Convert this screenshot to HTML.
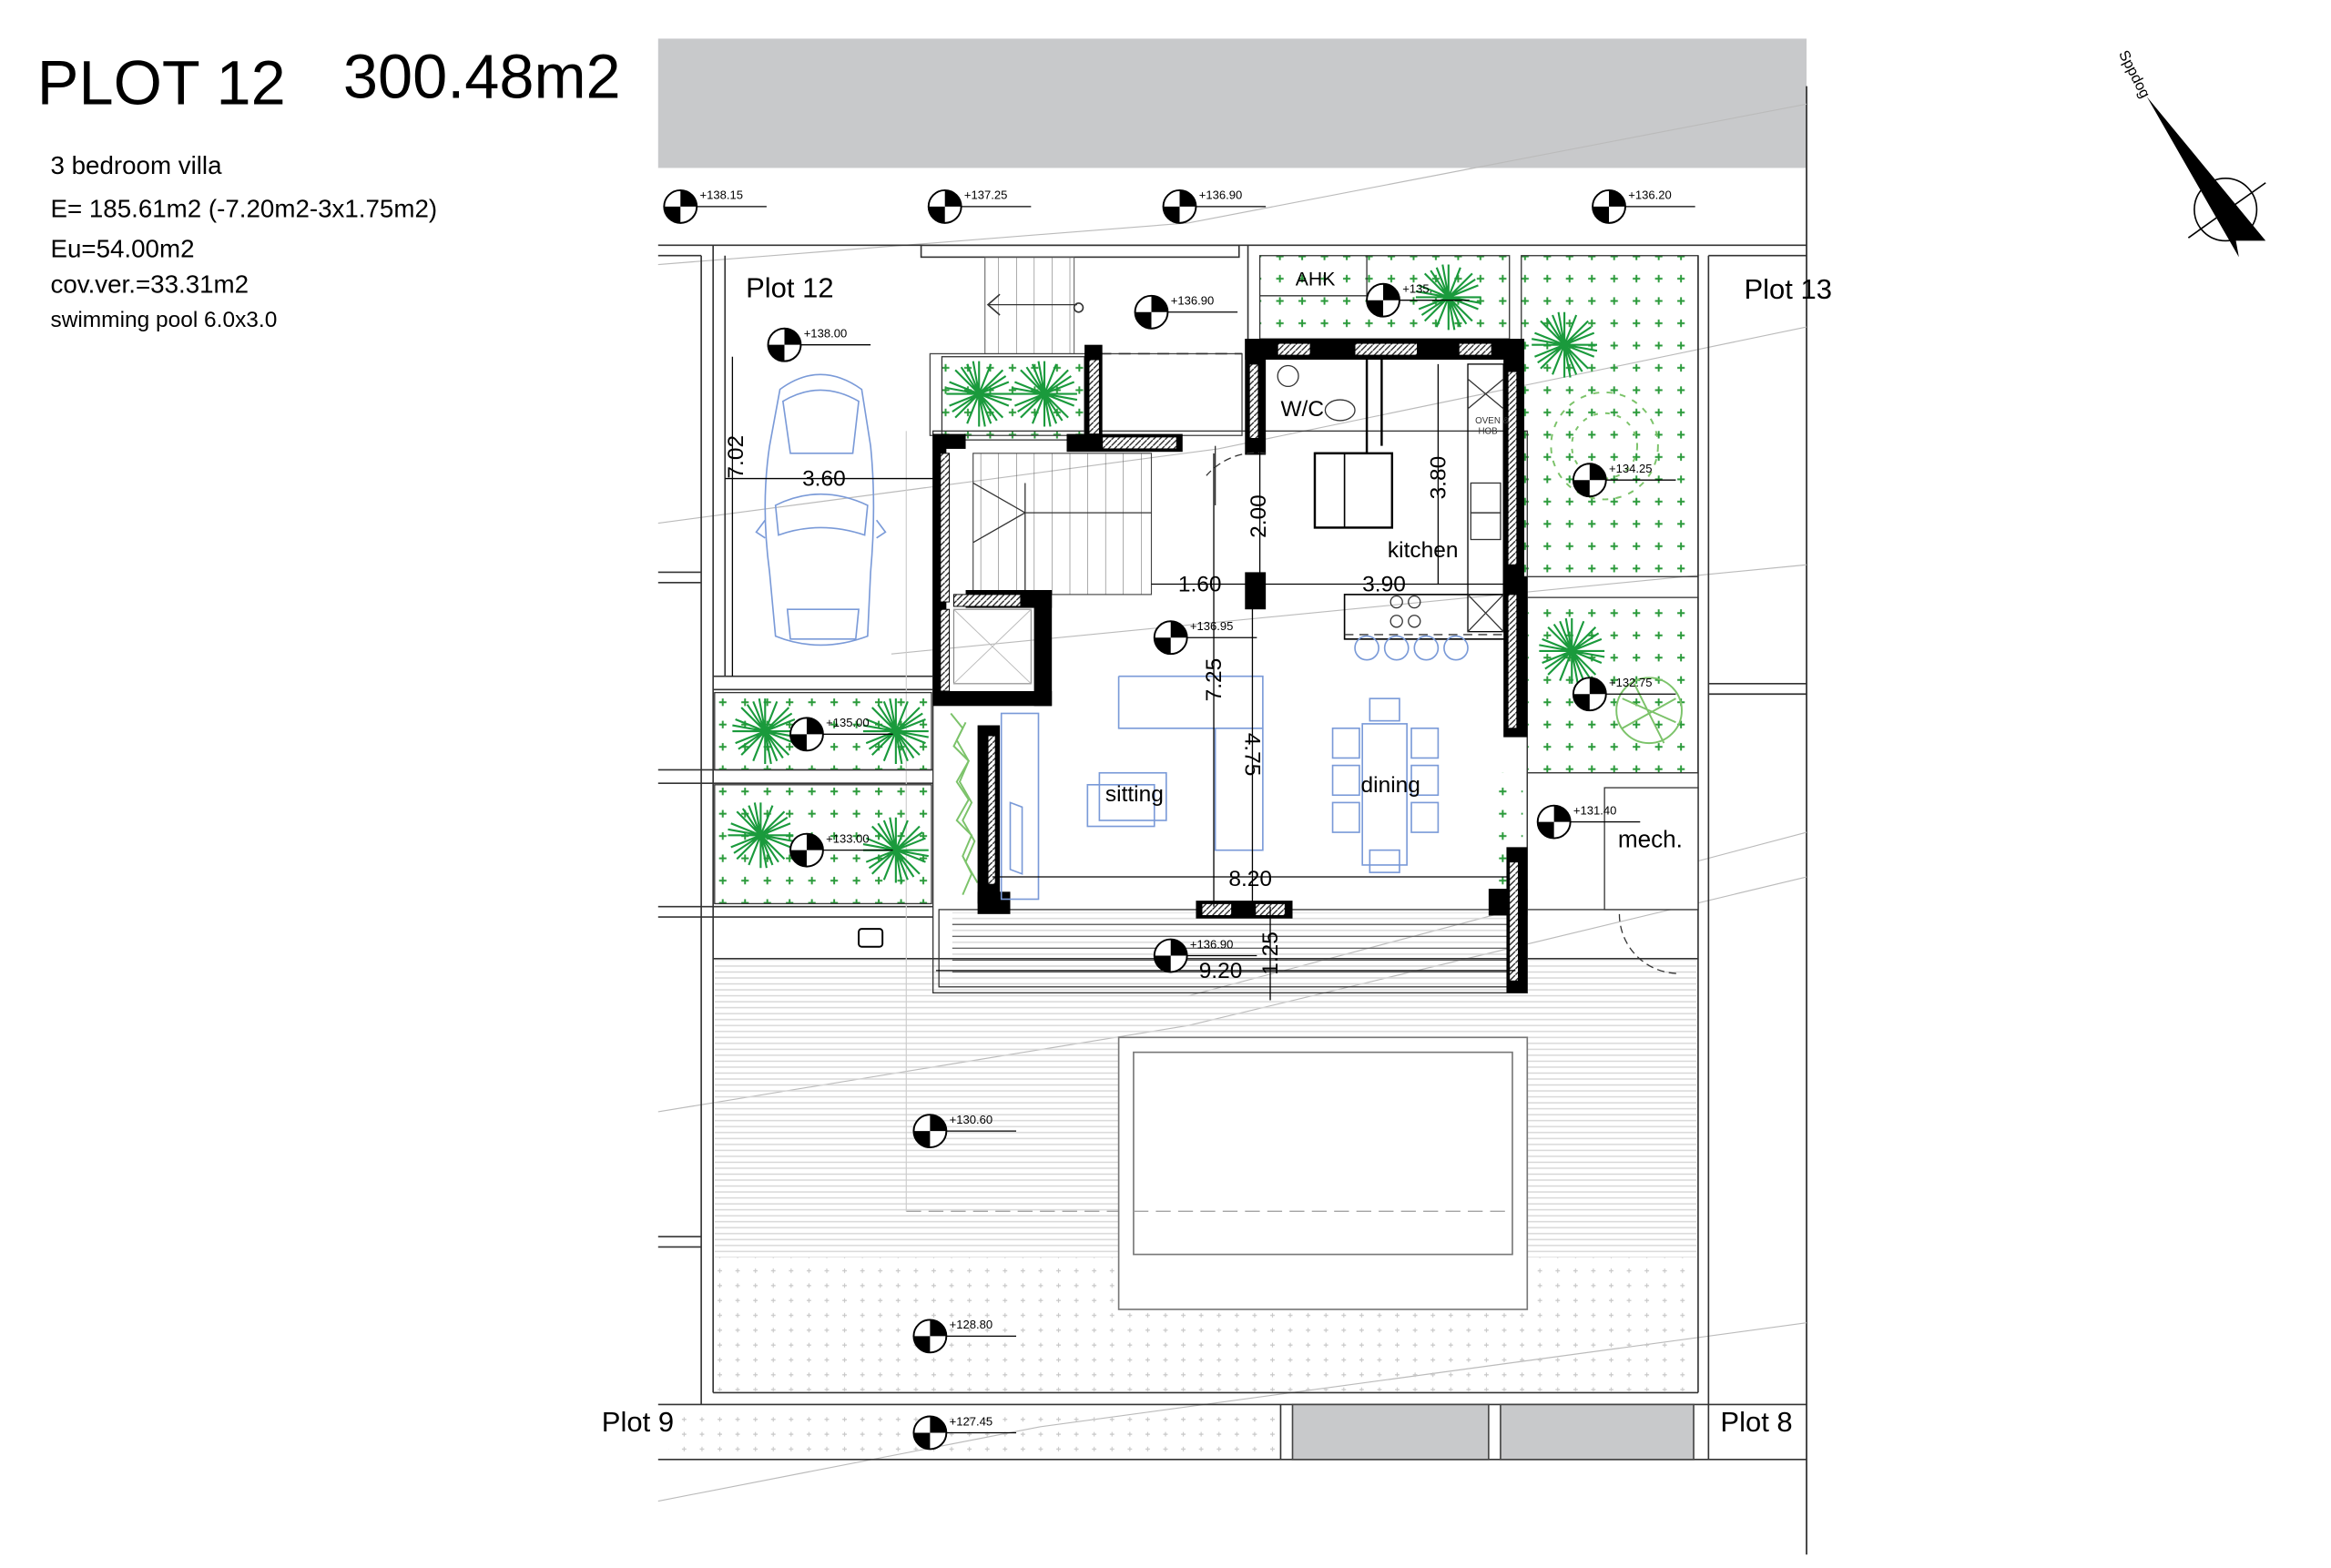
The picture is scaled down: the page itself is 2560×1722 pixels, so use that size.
<!DOCTYPE html>
<html><head><meta charset="utf-8"><style>
html,body{margin:0;padding:0;background:#fff;}
svg{display:block;}
text{font-family:"Liberation Sans Narrow","Liberation Sans",sans-serif;}
</style></head><body>
<svg width="2560" height="1722" viewBox="0 0 1569 1055" preserveAspectRatio="none" xmlns="http://www.w3.org/2000/svg">
<defs>
<pattern id="plus" width="15" height="15" patternUnits="userSpaceOnUse">
<path d="M4 7.5h5M6.5 5v5" stroke="#2a9a3a" stroke-width="1.2"/>
</pattern>
<pattern id="stripes" width="10" height="4" patternUnits="userSpaceOnUse">
<line x1="0" y1="2" x2="10" y2="2" stroke="#d6d6d6" stroke-width="0.8"/>
</pattern>
<pattern id="dots" width="12" height="10" patternUnits="userSpaceOnUse">
<path d="M3 5h3M4.5 3.5v3" stroke="#c8c8c8" stroke-width="0.7"/>
</pattern>
<pattern id="hatch" width="4" height="4" patternUnits="userSpaceOnUse">
<rect width="4" height="4" fill="#fff"/><path d="M0 4L4 0" stroke="#222" stroke-width="0.8"/>
</pattern>
<pattern id="stairs" width="12" height="10" patternUnits="userSpaceOnUse">
<line x1="0" y1="0" x2="0" y2="10" stroke="#555" stroke-width="0.6"/>
</pattern>
<g id="palm" stroke="#1a9a3c" stroke-width="1.3">
<path d="M-22 0H22M0-22V22M-16-16L16 16M-16 16L16-16M-20-8L20 8M-20 8L20-8M-8-20L8 20M8-20L-8 20M-22-4L22 4M-4-22L4 22M-18 12L18-12M12 18L-12-18"/>
</g>
<g id="lvl">
<circle r="11" fill="#fff" stroke="#000" stroke-width="1.2"/>
<path d="M0 0V-11A11 11 0 0 1 11 0Z" fill="#000"/>
<path d="M0 0V11A11 11 0 0 1 -11 0Z" fill="#000"/>
<line x1="11" y1="0" x2="58" y2="0" stroke="#000" stroke-width="0.8"/>
</g>
</defs>

<text x="25" y="70" font-size="42" style="font-family:'Liberation Sans',sans-serif">PLOT 12</text>
<text x="231" y="66" font-size="42" style="font-family:'Liberation Sans',sans-serif">300.48m2</text>
<g font-size="17" fill="#000">
<text x="34" y="117">3 bedroom villa</text>
<text x="34" y="146">E= 185.61m2 (-7.20m2-3x1.75m2)</text>
<text x="34" y="173">Eu=54.00m2</text>
<text x="34" y="197">cov.ver.=33.31m2</text>
<text x="34" y="220" font-size="15">swimming pool 6.0x3.0</text>
</g>

<rect x="443" y="26" width="773" height="87" fill="#c8c9cb"/>
<line x1="1216" y1="58" x2="1216" y2="1046" stroke="#444" stroke-width="1.2"/>

<g stroke="#bbb" stroke-width="0.7" fill="none">
<path d="M443 178L800 150L1216 70"/>
<path d="M443 352L820 302L1216 220"/>
<path d="M443 748L800 690L1216 590"/>
<path d="M443 1010L700 960L1216 890"/>
<path d="M600 440L1216 380"/>
<path d="M800 670L1216 560"/>
</g>

<g stroke="#333" stroke-width="1" fill="none">
<line x1="443" y1="165" x2="1216" y2="165"/>
<line x1="443" y1="172" x2="472" y2="172"/>
<line x1="1150" y1="172" x2="1216" y2="172"/>
<line x1="472" y1="172" x2="472" y2="945"/>
<line x1="480" y1="165" x2="480" y2="937"/>
<line x1="1143" y1="172" x2="1143" y2="937"/>
<line x1="1150" y1="172" x2="1150" y2="982"/>
<line x1="480" y1="937" x2="1143" y2="937"/>
<line x1="443" y1="945" x2="1216" y2="945"/>
<line x1="443" y1="982" x2="1216" y2="982"/>
<line x1="840" y1="165" x2="840" y2="228"/>
<line x1="1150" y1="460" x2="1216" y2="460"/>
<line x1="1150" y1="467" x2="1216" y2="467"/>
<line x1="443" y1="385" x2="472" y2="385"/>
<line x1="443" y1="392" x2="472" y2="392"/>
<line x1="443" y1="518" x2="628" y2="518"/>
<line x1="443" y1="527" x2="628" y2="527"/>
<line x1="443" y1="610" x2="628" y2="610"/>
<line x1="443" y1="617" x2="628" y2="617"/>
<line x1="443" y1="832" x2="472" y2="832"/>
<line x1="443" y1="839" x2="472" y2="839"/>
<line x1="480" y1="645" x2="1143" y2="645"/>
<line x1="862" y1="945" x2="862" y2="982"/>
<line x1="488" y1="172" x2="488" y2="455"/>
<line x1="480" y1="455" x2="628" y2="455"/>
<line x1="480" y1="464" x2="628" y2="464"/>
<rect x="620" y="165" width="214" height="8"/>
</g>

<rect x="450" y="948" width="410" height="32" fill="url(#dots)"/>
<rect x="870" y="945" width="132" height="37" fill="#c8c9cb" stroke="#444"/>
<rect x="1010" y="945" width="130" height="37" fill="#c8c9cb" stroke="#444"/>

<rect x="481" y="646" width="661" height="200" fill="url(#stripes)"/>
<rect x="481" y="846" width="661" height="90" fill="url(#dots)"/>
<line x1="610" y1="815" x2="1030" y2="815" stroke="#999" stroke-dasharray="10,5" stroke-width="0.8"/>
<line x1="610" y1="290" x2="610" y2="815" stroke="#ccc" stroke-width="0.7"/>
<rect x="753" y="698" width="275" height="183" fill="#fff" stroke="#777" stroke-width="1"/>
<rect x="763" y="708" width="255" height="136" fill="#fff" stroke="#777" stroke-width="1"/>
<line x1="763" y1="815" x2="1018" y2="815" stroke="#999" stroke-dasharray="10,5" stroke-width="0.8"/>

<g stroke="#333" stroke-width="0.8">
<rect x="481" y="466" width="146" height="52" fill="url(#plus)"/>
<rect x="481" y="528" width="146" height="80" fill="url(#plus)"/>
<rect x="848" y="172" width="168" height="56" fill="url(#plus)"/>
<line x1="848" y1="199" x2="920" y2="199"/>
<line x1="920" y1="172" x2="920" y2="199"/>
<rect x="1024" y="172" width="119" height="216" fill="url(#plus)"/>
<rect x="1028" y="402" width="115" height="118" fill="url(#plus)"/>
<rect x="634" y="240" width="96" height="56" fill="url(#plus)"/>
<rect x="1028" y="520" width="115" height="92" fill="#fff"/>
<rect x="1080" y="530" width="63" height="82" fill="#fff"/>
</g>
<rect x="1003" y="520" width="22" height="80" fill="url(#plus)"/>
<g fill="none" stroke="#7cc36a" stroke-width="1.2">
<path d="M640 480l8 10-6 12 10 10-8 14 8 12-8 14 10 10-6 14 6 12-6 14"/>
<path d="M650 486l-6 12 8 14-6 14 8 14-6 12 8 14-6 14 8 14"/>
<circle cx="1080" cy="300" r="36" stroke-dasharray="4,5"/>
<circle cx="1080" cy="300" r="22" stroke-dasharray="3,5"/>
<circle cx="1110" cy="478" r="22"/>
<path d="M1092 470l36 16M1100 460l20 40M1092 490l36-20"/>
</g>

<use href="#palm" x="659" y="265"/>
<use href="#palm" x="703" y="265"/>
<use href="#palm" x="515" y="492"/>
<use href="#palm" x="603" y="492"/>
<use href="#palm" x="512" y="562"/>
<use href="#palm" x="603" y="572"/>
<use href="#palm" x="975" y="200"/>
<use href="#palm" x="1053" y="232"/>
<use href="#palm" x="1058" y="438"/>

<rect x="663" y="173" width="60" height="65" fill="url(#stairs)" stroke="#555" stroke-width="0.6"/>
<path d="M665 205H725" stroke="#333" stroke-width="0.8"/>
<path d="M673 198L665 205L673 212" stroke="#333" fill="none"/>
<circle cx="726" cy="207" r="3" fill="none" stroke="#333"/>
<rect x="626" y="238" width="210" height="55" fill="none" stroke="#444" stroke-width="0.8"/>
<line x1="740" y1="238" x2="836" y2="238" stroke="#333" stroke-dasharray="8,5"/>

<g fill="none" stroke="#7a9ad8" stroke-width="1">
<path d="M525 262Q552 242 580 262L586 300Q590 340 586 385L584 428Q552 440 522 428L518 385Q512 340 518 300Z"/>
<path d="M527 270L532 305H574L578 270Q552 255 527 270Z"/>
<path d="M522 340Q552 325 584 340L582 360Q552 350 524 360Z"/>
<path d="M530 410H578L576 430H532Z"/>
<path d="M515 350l-6 8 6 4M590 350l6 8-6 4"/>
</g>

<g fill="none" stroke="#333" stroke-width="0.8">
<rect x="628" y="290" width="400" height="378" />
<rect x="632" y="612" width="392" height="52"/>
</g>
<rect x="641" y="614" width="375" height="48" fill="url(#stripes)"/>
<g stroke="#555" stroke-width="0.7">
<line x1="641" y1="622" x2="1016" y2="622"/><line x1="641" y1="630" x2="1016" y2="630"/>
<line x1="641" y1="638" x2="1016" y2="638"/><line x1="641" y1="646" x2="1016" y2="646"/>
<line x1="641" y1="654" x2="1016" y2="654"/>
</g>
<rect x="655" y="305" width="120" height="95" fill="url(#stairs)"/>
<rect x="655" y="305" width="120" height="95" fill="none" stroke="#444" stroke-width="0.7"/>
<path d="M655 325L690 345L655 365M690 345H775M690 325V400" stroke="#333" fill="none" stroke-width="0.8"/>
<rect x="642" y="410" width="52" height="50" fill="none" stroke="#888" stroke-width="0.7"/>
<path d="M642 410L694 460M694 410L642 460" stroke="#bbb" stroke-width="0.6"/>

<g fill="#000">
<rect x="628" y="292" width="22" height="10"/>
<rect x="628" y="292" width="9" height="182"/>
<rect x="628" y="465" width="80" height="10"/>
<rect x="650" y="397" width="58" height="12"/>
<rect x="696" y="397" width="12" height="78"/>
<rect x="658" y="488" width="15" height="120"/>
<rect x="658" y="600" width="22" height="15"/>
<rect x="805" y="606" width="65" height="12"/>
<rect x="1002" y="598" width="26" height="18"/>
<rect x="1014" y="570" width="14" height="98"/>
<rect x="1012" y="388" width="16" height="108"/>
<rect x="1012" y="228" width="14" height="162"/>
<rect x="838" y="228" width="188" height="14"/>
<rect x="838" y="228" width="14" height="78"/>
<rect x="730" y="232" width="12" height="70"/>
<rect x="718" y="292" width="78" height="12"/>
<rect x="838" y="385" width="14" height="25"/>
</g>
<g fill="url(#hatch)" stroke="#000" stroke-width="0.6">
<rect x="633" y="305" width="6" height="100"/>
<rect x="633" y="410" width="6" height="55"/>
<rect x="665" y="495" width="5" height="100"/>
<rect x="742" y="294" width="50" height="8"/>
<rect x="733" y="242" width="7" height="50"/>
<rect x="860" y="231" width="22" height="8"/>
<rect x="912" y="231" width="42" height="8"/>
<rect x="982" y="231" width="22" height="8"/>
<rect x="841" y="245" width="6" height="50"/>
<rect x="1015" y="250" width="6" height="130"/>
<rect x="1015" y="400" width="6" height="90"/>
<rect x="1016" y="580" width="6" height="80"/>
<rect x="809" y="608" width="20" height="8"/>
<rect x="845" y="608" width="20" height="8"/>
<rect x="642" y="400" width="45" height="8"/>
</g>
<g fill="none" stroke="#000" stroke-width="1.5">
<path d="M920 242V305H885"/>
<path d="M930 242V300"/>
<rect x="885" y="305" width="52" height="50"/>
<rect x="905" y="305" width="32" height="50" stroke-width="1"/>
<rect x="905" y="400" width="108" height="30" stroke-width="1"/>
<rect x="988" y="245" width="24" height="180" stroke-width="0.8"/>
</g>
<g fill="none" stroke="#333" stroke-width="0.8">
<circle cx="867" cy="253" r="7"/>
<ellipse cx="902" cy="276" rx="10" ry="7"/>
<path d="M988 255l24 20M1012 255l-24 20M988 400l24 25M1012 400l-24 25"/>
<rect x="990" y="325" width="20" height="20"/><rect x="990" y="345" width="20" height="18"/>
<circle cx="940" cy="405" r="4"/><circle cx="952" cy="405" r="4"/><circle cx="940" cy="418" r="4"/><circle cx="952" cy="418" r="4"/>
<line x1="905" y1="427" x2="1013" y2="427" stroke-dasharray="6,4"/>
<path d="M852 305A45 45 0 0 0 812 320" stroke-dasharray="5,3"/>
<path d="M818 300V340" />
</g>
<text x="993" y="285" font-size="6" fill="#333">OVEN &amp;</text>
<text x="995" y="292" font-size="6" fill="#333">HOB</text>
<g fill="none" stroke="#7a9ad8" stroke-width="1">
<circle cx="920" cy="436" r="8"/><circle cx="940" cy="436" r="8"/><circle cx="960" cy="436" r="8"/><circle cx="980" cy="436" r="8"/>
<path d="M753 455H850V490H818V572H850V455M753 455V490H818"/>
<rect x="740" y="520" width="45" height="32"/><rect x="732" y="528" width="45" height="28"/>
<rect x="917" y="487" width="30" height="95"/>
<rect x="897" y="490" width="18" height="20"/><rect x="897" y="515" width="18" height="20"/><rect x="897" y="540" width="18" height="20"/>
<rect x="950" y="490" width="18" height="20"/><rect x="950" y="515" width="18" height="20"/><rect x="950" y="540" width="18" height="20"/>
<rect x="922" y="470" width="20" height="15"/><rect x="922" y="572" width="20" height="15"/>
<rect x="674" y="480" width="25" height="125"/>
<path d="M680 540l8 3v45l-8-3Z"/>
</g>

<g stroke="#000" stroke-width="0.8" fill="none">
<line x1="493" y1="240" x2="493" y2="455"/>
<line x1="488" y1="322" x2="628" y2="322"/>
<line x1="848" y1="300" x2="848" y2="392"/>
<line x1="968" y1="245" x2="968" y2="393"/>
<line x1="775" y1="393" x2="1013" y2="393"/>
<line x1="817" y1="305" x2="817" y2="610"/>
<line x1="843" y1="392" x2="843" y2="610"/>
<line x1="668" y1="590" x2="1015" y2="590"/>
<line x1="630" y1="653" x2="1020" y2="653"/>
<line x1="855" y1="610" x2="855" y2="673"/>
</g>
<g font-size="15" fill="#000">
<text x="540" y="327" style="font-family:'Liberation Sans',sans-serif">3.60</text>
<text x="793" y="398" style="font-family:'Liberation Sans',sans-serif">1.60</text>
<text x="917" y="398" style="font-family:'Liberation Sans',sans-serif">3.90</text>
<text x="827" y="596" style="font-family:'Liberation Sans',sans-serif">8.20</text>
<text x="807" y="658" style="font-family:'Liberation Sans',sans-serif">9.20</text>
<text transform="translate(500,322) rotate(-90)" style="font-family:'Liberation Sans',sans-serif">7.02</text>
<text transform="translate(852,362) rotate(-90)" style="font-family:'Liberation Sans',sans-serif">2.00</text>
<text transform="translate(973,336) rotate(-90)" style="font-family:'Liberation Sans',sans-serif">3.80</text>
<text transform="translate(822,472) rotate(-90)" style="font-family:'Liberation Sans',sans-serif">7.25</text>
<text transform="translate(838,493) rotate(90)" style="font-family:'Liberation Sans',sans-serif">4.75</text>
<text transform="translate(860,656) rotate(-90)" style="font-family:'Liberation Sans',sans-serif">1.25</text>
</g>
<g font-size="15" fill="#000">
<text x="934" y="375">kitchen</text>
<text x="744" y="539">sitting</text>
<text x="916" y="533">dining</text>
<text x="862" y="280">W/C</text>
<text x="872" y="192" font-size="13">AHK</text>
<text x="1089" y="570" font-size="16">mech.</text>
<text x="502" y="200" font-size="19">Plot 12</text>
<text x="1174" y="201" font-size="19">Plot 13</text>
<text x="405" y="963" font-size="19">Plot 9</text>
<text x="1158" y="963" font-size="19">Plot 8</text>
</g>
<path d="M1090 615A40 40 0 0 0 1130 655" fill="none" stroke="#333" stroke-dasharray="5,3" stroke-width="0.8"/>
<rect x="578" y="625" width="16" height="12" rx="2" fill="none" stroke="#000" stroke-width="1.2"/>

<g font-size="8" fill="#000">
<use href="#lvl" x="458" y="139"/><text x="471" y="134">+138.15</text>
<use href="#lvl" x="636" y="139"/><text x="649" y="134">+137.25</text>
<use href="#lvl" x="794" y="139"/><text x="807" y="134">+136.90</text>
<use href="#lvl" x="1083" y="139"/><text x="1096" y="134">+136.20</text>
<use href="#lvl" x="775" y="210"/><text x="788" y="205">+136.90</text>
<use href="#lvl" x="528" y="232"/><text x="541" y="227">+138.00</text>
<use href="#lvl" x="931" y="202"/><text x="944" y="197">+135.</text>
<use href="#lvl" x="1070" y="323"/><text x="1083" y="318">+134.25</text>
<use href="#lvl" x="788" y="429"/><text x="801" y="424">+136.95</text>
<use href="#lvl" x="1070" y="467"/><text x="1083" y="462">+132.75</text>
<use href="#lvl" x="543" y="494"/><text x="556" y="489">+135.00</text>
<use href="#lvl" x="543" y="572"/><text x="556" y="567">+133.00</text>
<use href="#lvl" x="1046" y="553"/><text x="1059" y="548">+131.40</text>
<use href="#lvl" x="788" y="643"/><text x="801" y="638">+136.90</text>
<use href="#lvl" x="626" y="761"/><text x="639" y="756">+130.60</text>
<use href="#lvl" x="626" y="899"/><text x="639" y="894">+128.80</text>
<use href="#lvl" x="626" y="964"/><text x="639" y="959">+127.45</text>
</g>

<g>
<circle cx="1498" cy="141" r="21" fill="none" stroke="#000" stroke-width="1"/>
<line x1="1473" y1="160" x2="1525" y2="123" stroke="#000" stroke-width="1"/>
<path d="M1445 65L1525 162L1505 162L1507 173Z" fill="#000"/>
<text transform="translate(1426,36) rotate(63)" font-size="10" style="font-family:'Liberation Sans',sans-serif">Sppdog</text>
</g>
</svg>
</body></html>
